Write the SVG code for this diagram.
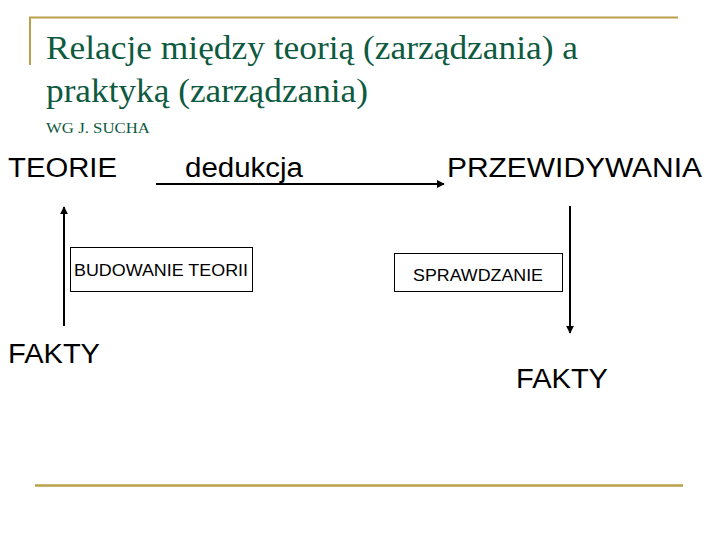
<svg xmlns="http://www.w3.org/2000/svg" width="720" height="540" viewBox="0 0 720 540">
<style>
.title{font-family:"Liberation Serif","DejaVu Serif",serif;fill:#0e5a40;}
.big{font-family:"Liberation Sans",Arial,sans-serif;font-size:27px;fill:#000;}
.small{font-family:"Liberation Sans",Arial,sans-serif;font-size:17px;fill:#000;}
.box{fill:#fff;stroke:#000;stroke-width:1;}
.conn{stroke:#000;stroke-width:2;fill:none;}
.rule{stroke:#b9a04a;fill:none;}
</style>
<defs>
<marker id="ah" viewBox="0 0 10 10" refX="9" refY="5" markerWidth="4" markerHeight="4" orient="auto" markerUnits="strokeWidth">
<path d="M0,0 L10,5 L0,10 z" fill="#000"/>
</marker>
</defs>
<rect width="720" height="540" fill="#fff"/>
<g id="frame">
<line class="rule" x1="29" y1="17.5" x2="678" y2="17.5" stroke-width="2"/>
<line class="rule" x1="30" y1="17" x2="30" y2="65" stroke-width="2"/>
<line class="rule" x1="35" y1="485.5" x2="683" y2="485.5" stroke-width="2.5" stroke="#c0a060"/>
</g>
<g id="title">
<text class="title" x="46" y="59" font-size="33" textLength="532" lengthAdjust="spacingAndGlyphs">Relacje między teorią (zarządzania) a</text>
<text class="title" x="46" y="102" font-size="33" textLength="322" lengthAdjust="spacingAndGlyphs">praktyką (zarządzania)</text>
<text class="title" x="46" y="133" font-size="15" textLength="104" lengthAdjust="spacingAndGlyphs">WG J. SUCHA</text>
</g>
<g id="connectors">
<line class="conn" x1="156" y1="184" x2="444" y2="184" marker-end="url(#ah)"/>
<line class="conn" x1="64" y1="326" x2="64" y2="207" marker-end="url(#ah)"/>
<line class="conn" x1="570" y1="206" x2="570" y2="333" marker-end="url(#ah)"/>
</g>
<g id="teorie"><text class="big" x="8" y="177" textLength="109" lengthAdjust="spacingAndGlyphs">TEORIE</text></g>
<g id="dedukcja"><text class="big" x="185" y="177" textLength="118" lengthAdjust="spacingAndGlyphs">dedukcja</text></g>
<g id="przewidywania"><text class="big" x="447" y="177" textLength="255" lengthAdjust="spacingAndGlyphs">PRZEWIDYWANIA</text></g>
<g id="budowanie">
<rect class="box" x="70.5" y="247.5" width="182" height="44"/>
<text class="small" x="74" y="276" textLength="174" lengthAdjust="spacingAndGlyphs">BUDOWANIE TEORII</text>
</g>
<g id="sprawdzanie">
<rect class="box" x="394.5" y="253.5" width="168" height="38"/>
<text class="small" x="413" y="281" textLength="130" lengthAdjust="spacingAndGlyphs">SPRAWDZANIE</text>
</g>
<g id="fakty-left"><text class="big" x="8" y="363" textLength="92" lengthAdjust="spacingAndGlyphs">FAKTY</text></g>
<g id="fakty-right"><text class="big" x="516" y="388" textLength="92" lengthAdjust="spacingAndGlyphs">FAKTY</text></g>
</svg>
